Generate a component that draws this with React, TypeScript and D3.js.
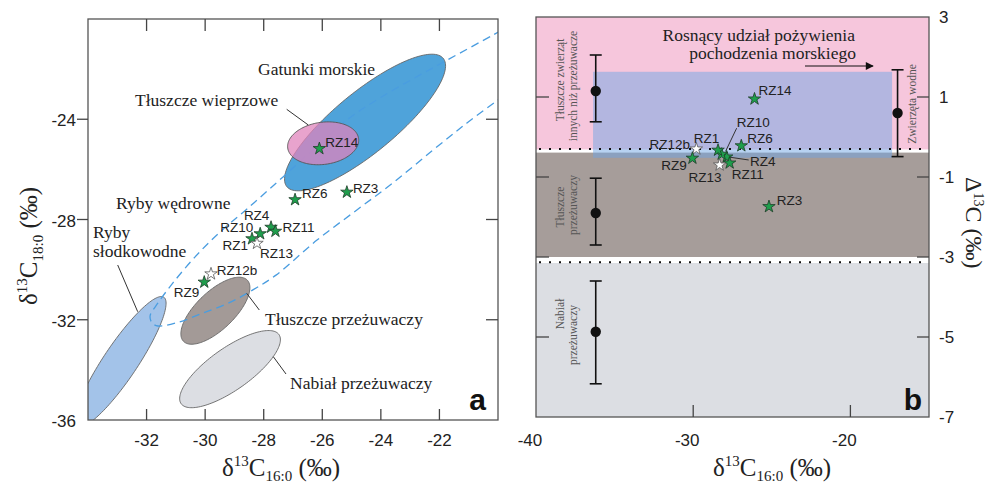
import React from 'react';
import * as d3 from 'd3';

// ---------- DATA ----------
const samples = ['RZ14', 'RZ6', 'RZ3', 'RZ4', 'RZ10', 'RZ11', 'RZ1', 'RZ13', 'RZ12b', 'RZ9'];
const openSamples = ['RZ13', 'RZ12b'];
// panel a
const d16 = [-26.1, -26.93, -25.16, -27.75, -28.12, -27.6, -28.4, -28.23, -29.8, -30.03];
const d18 = [-25.17, -27.21, -26.91, -28.31, -28.57, -28.47, -28.77, -28.95, -30.17, -30.5];
// panel b
const d16b = [-26.1, -26.94, -25.18, -27.87, -28.19, -27.68, -28.42, -28.32, -29.8, -30.05];
const bigDelta = [0.95, -0.22, -1.74, -0.5, -0.43, -0.65, -0.33, -0.7, -0.3, -0.53];

// reference fields (ellipses) in panel a
const regionNames = ['Ryby słodkowodne', 'Tłuszcze przeżuwaczy', 'Nabiał przeżuwaczy', 'Gatunki morskie', 'Tłuszcze wieprzowe'];
const regionCx = [-32.89, -29.65, -29.15, -24.54, -25.97];
const regionCy = [-33.68, -31.64, -33.97, -24.13, -24.96];
const regionTipX = [-31.41, -28.56, -27.48, -21.87, -24.76];
const regionTipY = [-31.10, -30.42, -32.59, -21.57, -24.77];
const regionRatio = [0.218, 0.43, 0.35, 0.3, 0.59];

// migratory fish (dashed) boundary in panel a
const migX = [-19.5, -20.17, -21.74, -22.66, -24.03, -25.16, -27.34, -28.61, -29.53, -30.35, -31.1, -31.61, -31.88, -31.81, -31.61,
  -30.89, -30.07, -29.19, -28.37, -27.58, -26.18, -24.82, -23.59, -22.22, -21.06, -20.0, -19.5];
const migY = [-20.21, -20.64, -21.64, -22.23, -23.15, -24.03, -26.3, -27.62, -28.54, -29.5, -30.53, -31.33, -31.85, -32.13, -32.25,
  -32.09, -31.73, -31.33, -30.81, -30.22, -28.82, -27.62, -26.54, -25.23, -24.15, -23.23, -22.8];

// panel b reference groups
const groupNames = ['nonRuminant', 'ruminant', 'dairy', 'aquatic'];
const groupX = [-36.2, -36.2, -36.2, -17];
const groupMean = [1.15, -1.9, -4.87, 0.6];
const groupHigh = [2.05, -1.03, -3.6, 1.68];
const groupLow = [0.38, -2.7, -6.17, -0.49];
// classification bands (Δ13C)
const bandNames = ['nonRuminantFat', 'ruminantFat', 'dairy'];
const bandTop = [3, -0.39, -3.15];
const bandBottom = [-0.31, -3, -7];
const thresholds = [-0.3, -3.13];
const marineX = [-36.37, -17.35];
const marineY = [-0.52, 1.63];

// ticks
const aXTicks = [-32, -30, -28, -26, -24, -22];
const aYTicks = [-24, -28, -32, -36];
const bXTicks = [-40, -30, -20];
const bYTicks = [3, 1, -1, -3, -5, -7];

// ---------- LAYOUT / STYLE ----------
const regionFill: Record<string, string> = {
  'Ryby słodkowodne': '#a3c3e9',
  'Tłuszcze przeżuwaczy': '#a39a97',
  'Nabiał przeżuwaczy': '#dcdee3',
  'Gatunki morskie': '#4fa3da',
  'Tłuszcze wieprzowe': 'rgb(224,131,187)',
};
const regionOpacity: Record<string, number> = { 'Tłuszcze wieprzowe': 0.74 };
const bandFill: Record<string, string> = { nonRuminantFat: '#f6c6dc', ruminantFat: '#a69d9a', dairy: '#dcdee3' };

const labelA: Record<string, [number, number, string]> = {
  RZ14: [6, -6, 'start'], RZ6: [7, -7, 'start'], RZ3: [6, -4, 'start'], RZ4: [-14.4, -12, 'middle'],
  RZ10: [-7, -7, 'end'], RZ11: [7, -4.5, 'start'], RZ1: [-4, 6, 'end'], RZ13: [3, 9.5, 'start'],
  RZ12b: [5.7, -4, 'start'], RZ9: [-5, 9.6, 'end'],
};
const labelB: Record<string, [number, number, string]> = {
  RZ14: [4, -9, 'start'], RZ6: [6, -7.5, 'start'], RZ3: [7.7, -6.6, 'start'], RZ4: [23.3, 4.2, 'start'],
  RZ10: [15, -32.5, 'start'], RZ11: [2, 10.8, 'start'], RZ1: [-11.5, -12.5, 'middle'], RZ13: [-14.6, 11.7, 'middle'],
  RZ12b: [-6.3, -4.7, 'end'], RZ9: [-5.7, 6.8, 'end'],
};
const leaderB: Record<string, [number, number, number, number]> = {
  RZ10: [4, -3, 15, -26],
  RZ4: [2, 0, 22, 3],
};

const SANS = 'Liberation Sans, Arial, sans-serif';
const SERIF = 'Liberation Serif, Times New Roman, serif';

const xA = d3.scaleLinear().domain([-34, -20]).range([88, 498]);
const yA = d3.scaleLinear().domain([-36, -20]).range([420, 19]);
const xB = d3.scaleLinear().domain([-40, -15]).range([536, 929]);
const yB = d3.scaleLinear().domain([-7, 3]).range([417, 17]);

const starPath = d3.symbol().type(d3.symbolStar).size(48)() as string;

function ellipsePath(i: number): string {
  const cx = xA(regionCx[i]), cy = yA(regionCy[i]);
  const ux = xA(regionTipX[i]) - cx, uy = yA(regionTipY[i]) - cy;
  const a = Math.hypot(ux, uy);
  const b = a * regionRatio[i];
  const vx = (-uy / a) * b, vy = (ux / a) * b;
  const pts: [number, number][] = d3.range(0, 144).map((k) => {
    const t = (k / 144) * Math.PI * 2;
    return [cx + Math.cos(t) * ux + Math.sin(t) * vx, cy + Math.cos(t) * uy + Math.sin(t) * vy];
  });
  return d3.line().curve(d3.curveLinearClosed)(pts) as string;
}

const migPath = d3
  .line<number>()
  .x((i) => xA(migX[i]))
  .y((i) => yA(migY[i]))
  .curve(d3.curveCatmullRom.alpha(0.5))(d3.range(migX.length)) as string;

function Star({ x, y, open }: { x: number; y: number; open: boolean }) {
  return (
    <path
      d={starPath}
      transform={`translate(${x},${y})`}
      fill={open ? '#ffffff' : '#1f9e4c'}
      stroke={open ? '#555' : '#1d3b27'}
      strokeWidth={0.8}
    />
  );
}

function Title16({ x, y }: { x: number; y: number }) {
  return (
    <text x={x} y={y} fontFamily={SERIF} fontSize={25} fill="#222">
      δ<tspan fontSize={15} dy={-10}>13</tspan>
      <tspan dy={10}>C</tspan>
      <tspan fontSize={15} dy={5}>16:0</tspan>
      <tspan dy={-5}> (‰)</tspan>
    </text>
  );
}

export default function App() {
  const ax0 = xA.range()[0], ax1 = xA.range()[1];
  const ay0 = yA.range()[1], ay1 = yA.range()[0];
  const bx0 = xB.range()[0], bx1 = xB.range()[1];
  const by0 = yB.range()[1], by1 = yB.range()[0];

  const drawOrder = [0, 1, 2, 3];
  return (
    <svg width={990} height={484} style={{ position: 'absolute', left: 0, top: 0, background: '#fff' }}>
      <defs>
        <clipPath id="clipA">
          <rect x={ax0} y={ay0} width={ax1 - ax0} height={ay1 - ay0} />
        </clipPath>
        <marker id="arrowHead" viewBox="0 0 10 10" refX={9} refY={5} markerWidth={10} markerHeight={8} orient="auto" markerUnits="userSpaceOnUse">
          <path d="M0,0 L10,5 L0,10 Z" fill="#111" />
        </marker>
      </defs>

      {/* ================= PANEL A ================= */}
      <g clipPath="url(#clipA)">
        {drawOrder.map((i) => (
          <path key={regionNames[i]} d={ellipsePath(i)} fill={regionFill[regionNames[i]]} stroke="#666" strokeWidth={0.9} />
        ))}
        <path d={migPath} fill="none" stroke="#4a9de0" strokeWidth={1.3} strokeDasharray="8,5" />
        <path d={ellipsePath(4)} fill={regionFill[regionNames[4]]} fillOpacity={regionOpacity[regionNames[4]]} stroke="#555" strokeWidth={0.9} />
      </g>

      {/* leader lines */}
      <g stroke="#333" strokeWidth={1}>
        <line x1={286.7} y1={109.3} x2={308.3} y2={125} />
        <line x1={117.7} y1={265} x2={137.7} y2={311.7} />
        <line x1={246.7} y1={293.3} x2={259.3} y2={310} />
        <line x1={273.3} y1={356.7} x2={286} y2={374} />
      </g>
      {/* region labels */}
      <g fontFamily={SERIF} fontSize={17.5} fill="#222">
        <text x={258} y={75}>Gatunki morskie</text>
        <text x={135} y={106}>Tłuszcze wieprzowe</text>
        <text x={116} y={209}>Ryby wędrowne</text>
        <text x={93} y={238}>Ryby</text>
        <text x={93} y={257}>słodkowodne</text>
        <text x={265} y={325}>Tłuszcze przeżuwaczy</text>
        <text x={290} y={389}>Nabiał przeżuwaczy</text>
      </g>

      {/* samples */}
      {samples.map((s, i) => {
        const px = xA(d16[i]), py = yA(d18[i]);
        const [dx, dy, anchor] = labelA[s];
        return (
          <g key={'a' + s}>
            <Star x={px} y={py} open={openSamples.includes(s)} />
            <text x={px + dx} y={py + dy} dy="0.36em" textAnchor={anchor as any} fontFamily={SANS} fontSize={13.5} fill="#222">
              {s}
            </text>
          </g>
        );
      })}

      {/* frame & ticks */}
      <rect x={ax0} y={ay0} width={ax1 - ax0} height={ay1 - ay0} fill="none" stroke="#555" strokeWidth={1.3} />
      <g stroke="#444" strokeWidth={1.3}>
        {aXTicks.map((t) => (
          <g key={'ax' + t}>
            <line x1={xA(t)} x2={xA(t)} y1={ay0} y2={ay0 + 12} />
            <line x1={xA(t)} x2={xA(t)} y1={ay1} y2={ay1 - 11} />
          </g>
        ))}
        {aYTicks.filter((t) => t > -36).map((t) => (
          <g key={'ay' + t}>
            <line x1={ax0 - 11} x2={ax0} y1={yA(t)} y2={yA(t)} />
            <line x1={ax1} x2={ax1 - 12} y1={yA(t)} y2={yA(t)} />
          </g>
        ))}
      </g>
      <g fontFamily={SANS} fontSize={17} fill="#222">
        {aXTicks.map((t) => (
          <text key={'axl' + t} x={xA(t)} y={446} textAnchor="middle">{t}</text>
        ))}
        {aYTicks.map((t) => (
          <text key={'ayl' + t} x={76} y={yA(t) + 1} dy="0.36em" textAnchor="end">{t}</text>
        ))}
      </g>
      <Title16 x={222} y={476} />
      <text transform="translate(37,305) rotate(-90)" fontFamily={SERIF} fontSize={25} fill="#222">
        δ<tspan fontSize={15} dy={-10}>13</tspan>
        <tspan dy={10}>C</tspan>
        <tspan fontSize={15} dy={6}>18:0</tspan>
        <tspan dy={-6}> (‰)</tspan>
      </text>
      <text x={486} y={410} textAnchor="end" fontFamily={SANS} fontWeight="bold" fontSize={30} fill="#111">a</text>

      {/* ================= PANEL B ================= */}
      {bandNames.map((n, i) => (
        <rect key={n} x={bx0} width={bx1 - bx0} y={yB(bandTop[i])} height={yB(bandBottom[i]) - yB(bandTop[i])} fill={bandFill[n]} />
      ))}
      <rect
        x={xB(marineX[0])}
        width={xB(marineX[1]) - xB(marineX[0])}
        y={yB(marineY[1])}
        height={yB(marineY[0]) - yB(marineY[1])}
        fill="rgb(112,165,228)"
        fillOpacity={0.5}
      />
      {thresholds.map((t) => (
        <line key={'th' + t} x1={bx0 + 3} x2={bx1} y1={yB(t)} y2={yB(t)} stroke="#111" strokeWidth={2} strokeDasharray="2,8" />
      ))}

      {/* group error bars */}
      {groupNames.map((g, i) => {
        const x = xB(groupX[i]);
        return (
          <g key={g} stroke="#111" strokeWidth={1.6}>
            <line x1={x} x2={x} y1={yB(groupHigh[i])} y2={yB(groupLow[i])} />
            <line x1={x - 6} x2={x + 6} y1={yB(groupHigh[i])} y2={yB(groupHigh[i])} />
            <line x1={x - 6} x2={x + 6} y1={yB(groupLow[i])} y2={yB(groupLow[i])} />
            <circle cx={x} cy={yB(groupMean[i])} r={5.2} fill="#111" stroke="none" />
          </g>
        );
      })}

      {/* rotated group labels */}
      <g fontFamily={SERIF} fontSize={11.5} fill="#555" textAnchor="middle">
        <text transform="translate(564,80) rotate(-90)">Tłuszcze zwierząt</text>
        <text transform="translate(577,86) rotate(-90)">innych niż przeżuwacze</text>
        <text transform="translate(564,207) rotate(-90)">Tłuszcze</text>
        <text transform="translate(577,205) rotate(-90)">przeżuwaczy</text>
        <text transform="translate(564,314) rotate(-90)">Nabiał</text>
        <text transform="translate(577,335) rotate(-90)">przeżuwaczy</text>
        <text transform="translate(916,104) rotate(-90)">Zwierzęta wodne</text>
      </g>

      {/* marine food arrow */}
      <g fontFamily={SERIF} fontSize={17.5} fill="#222">
        <text x={855} y={41} textAnchor="end">Rosnący udział pożywienia</text>
        <text x={856} y={59} textAnchor="end">pochodzenia morskiego</text>
      </g>
      <line x1={805} x2={873} y1={66} y2={66} stroke="#111" strokeWidth={1.2} markerEnd="url(#arrowHead)" />

      {/* leader lines */}
      {samples.filter((s) => leaderB[s]).map((s) => {
        const i = samples.indexOf(s);
        const px = xB(d16b[i]), py = yB(bigDelta[i]);
        const [a1, b1, a2, b2] = leaderB[s];
        return <line key={'lb' + s} x1={px + a1} y1={py + b1} x2={px + a2} y2={py + b2} stroke="#333" strokeWidth={1} />;
      })}
      {samples.map((s, i) => {
        const px = xB(d16b[i]), py = yB(bigDelta[i]);
        const [dx, dy, anchor] = labelB[s];
        return (
          <g key={'b' + s}>
            <Star x={px} y={py} open={openSamples.includes(s)} />
            <text x={px + dx} y={py + dy} dy="0.36em" textAnchor={anchor as any} fontFamily={SANS} fontSize={13.5} fill="#222">
              {s}
            </text>
          </g>
        );
      })}

      {/* frame & ticks */}
      <rect x={bx0} y={by0} width={bx1 - bx0} height={by1 - by0} fill="none" stroke="#555" strokeWidth={1.3} />
      <g stroke="#444" strokeWidth={1.3}>
        {bXTicks.filter((t) => t > -40).map((t) => (
          <line key={'bx' + t} x1={xB(t)} x2={xB(t)} y1={by1} y2={by1 - 12} />
        ))}
        {bYTicks.filter((t) => t < 3 && t > -7).map((t) => (
          <g key={'by' + t}>
            <line x1={bx0} x2={bx0 + 13} y1={yB(t)} y2={yB(t)} />
            <line x1={bx1} x2={bx1 - 12} y1={yB(t)} y2={yB(t)} />
          </g>
        ))}
      </g>
      <g fontFamily={SANS} fontSize={17} fill="#222">
        {bXTicks.map((t) => (
          <text key={'bxl' + t} x={xB(t) - 6} y={446} textAnchor="middle">{t}</text>
        ))}
        {bYTicks.map((t) => (
          <text key={'byl' + t} x={939} y={yB(t)} dy="0.36em" textAnchor="start">{t}</text>
        ))}
      </g>
      <Title16 x={713} y={476} />
      <text transform="translate(966,177) rotate(90)" fontFamily={SERIF} fontSize={24} fill="#222">
        Δ<tspan fontSize={14} dy={-8}>13</tspan>
        <tspan dy={8}>C (‰)</tspan>
      </text>
      <text x={922} y={410} textAnchor="end" fontFamily={SANS} fontWeight="bold" fontSize={30} fill="#111">b</text>
    </svg>
  );
}
